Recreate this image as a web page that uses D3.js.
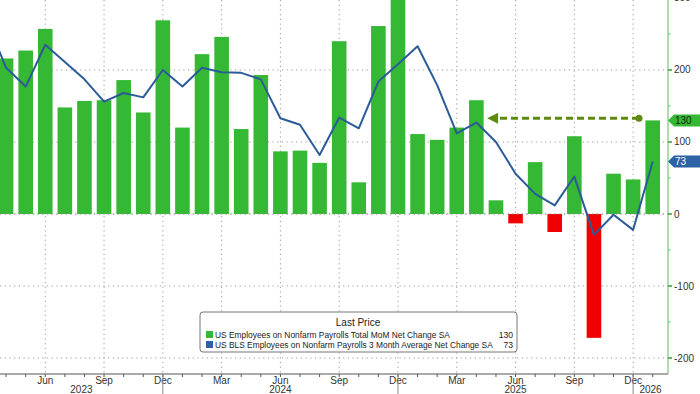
<!DOCTYPE html>
<html>
<head>
<meta charset="utf-8">
<script src="https://cdn.jsdelivr.net/npm/d3@7"></script>
<style>
  body { margin: 0; background: #fff; }
  svg { display: block; }
  text { font-family: "Liberation Sans", Arial, sans-serif; }
</style>
</head>
<body>
<div id="chart"></div>
<script>
// months shown (Mar 2023 sits just off the left edge, only the avg line comes from it)
const months = [
  "2023-03", "2023-04", "2023-05", "2023-06", "2023-07", "2023-08", "2023-09", "2023-10", "2023-11", "2023-12",
  "2024-01", "2024-02", "2024-03", "2024-04", "2024-05", "2024-06", "2024-07", "2024-08", "2024-09", "2024-10", "2024-11", "2024-12",
  "2025-01", "2025-02", "2025-03", "2025-04", "2025-05", "2025-06", "2025-07", "2025-08", "2025-09", "2025-10", "2025-11", "2025-12",
  "2026-01"
];
// US Employees on Nonfarm Payrolls Total MoM Net Change SA (thousands)
const payrolls = [
  null, 216, 227, 257, 148, 157, 158, 186, 141, 269,
  120, 222, 246, 118, 193, 87, 88, 71, 240, 44, 261, 320,
  111, 103, 120, 158, 19, -13, 72, -25, 108, -172, 56, 48,
  130
];
// US BLS Employees on Nonfarm Payrolls 3 Month Average Net Change SA
const avg3m = [
  270, 203, 177, 235, 211, 187, 156, 168, 162, 200,
  177, 203, 197, 196, 187, 133, 124, 82, 134, 119, 184, 208,
  233, 179, 112, 127, 100, 56, 28, 12, 52, -29, -1, -22,
  73
];
const yTicks = [300, 200, 100, 0, -100, -200];
const yMinorTicks = [250, 150, 50, -50, -150];
const monthNames = ["Jan","Feb","Mar","Apr","May","Jun","Jul","Aug","Sep","Oct","Nov","Dec"];
const legendNames = [
  "US Employees on Nonfarm Payrolls Total MoM Net Change SA",
  "US BLS Employees on Nonfarm Payrolls 3 Month Average Net Change SA"
];
// dashed arrow annotation: level and month-index span
const arrowLevel = 133;
const arrowFrom = 33.3;
const arrowTo = 25.55;

const W = 700, H = 394;
const plotRight = 668, plotBottom = 374;
const GREEN = "#35b833", RED = "#f00000", BLUE = "#2b5c98", OLIVE = "#5f8a12";

const svg = d3.select('#chart').append('svg')
  .attr('width', W).attr('height', H);

const x = d3.scaleLinear().domain([0.69, 34.78]).range([0, plotRight]);
const y = d3.scaleLinear().domain([-222.2, 297.2]).range([plotBottom, 0]);

svg.append('defs').append('clipPath').attr('id', 'plot')
  .append('rect').attr('x', 0).attr('y', 0).attr('width', plotRight).attr('height', plotBottom);

const monthNum = months.map(m => +m.slice(5, 7));
const quarterIdx = months.map((m, i) => i).filter(i => monthNum[i] % 3 === 0 && x(i) >= 0);
const decIdx = months.map((m, i) => i).filter(i => monthNum[i] === 12);

// grid
const grid = svg.append('g').attr('stroke', '#9a9a9a').attr('stroke-dasharray', '1.2,3.5').attr('stroke-width', 1);
grid.selectAll('.hg').data(yTicks.filter(t => t < 290)).enter().append('line')
  .attr('x1', 0).attr('x2', plotRight).attr('y1', d => y(d)).attr('y2', d => y(d));
grid.selectAll('.vg').data(quarterIdx).enter().append('line')
  .attr('x1', d => x(d)).attr('x2', d => x(d)).attr('y1', 0).attr('y2', plotBottom);

// bars
const bw = 14.6;
svg.append('g').attr('clip-path', 'url(#plot)')
  .selectAll('rect')
  .data(payrolls.map((v, i) => ({ v, i })).filter(d => d.v !== null))
  .enter().append('rect')
  .attr('x', d => x(d.i) - bw / 2)
  .attr('width', bw)
  .attr('y', d => y(Math.max(0, d.v)))
  .attr('height', d => Math.abs(y(d.v) - y(0)))
  .attr('fill', d => d.v >= 0 ? GREEN : RED);

// zero line over bars
svg.append('line').attr('x1', 0).attr('x2', plotRight).attr('y1', y(0)).attr('y2', y(0))
  .attr('stroke', '#9a9a9a').attr('stroke-dasharray', '1.2,3.5');

// 3m average line
svg.append('path').attr('clip-path', 'url(#plot)')
  .datum(avg3m)
  .attr('d', d3.line().x((d, i) => x(i)).y(d => y(d)))
  .attr('fill', 'none').attr('stroke', BLUE).attr('stroke-width', 2).attr('stroke-linejoin', 'round');

// dashed arrow
const ay = y(arrowLevel);
svg.append('line')
  .attr('x1', x(arrowFrom)).attr('x2', x(arrowTo) + 9).attr('y1', ay).attr('y2', ay)
  .attr('stroke', OLIVE).attr('stroke-width', 3).attr('stroke-dasharray', '7,4');
svg.append('circle').attr('cx', x(arrowFrom)).attr('cy', ay).attr('r', 3.5).attr('fill', OLIVE);
svg.append('path')
  .attr('d', `M${x(arrowTo)},${ay} L${x(arrowTo) + 11},${ay - 5.5} L${x(arrowTo) + 11},${ay + 5.5} Z`)
  .attr('fill', OLIVE);

// right axis
const ra = svg.append('g');
ra.append('line').attr('x1', plotRight).attr('x2', plotRight).attr('y1', 0).attr('y2', plotBottom)
  .attr('stroke', '#5cbf5a').attr('stroke-width', 1);
ra.selectAll('.mt').data(yTicks).enter().append('line')
  .attr('x1', plotRight).attr('x2', plotRight + 4).attr('y1', d => y(d)).attr('y2', d => y(d))
  .attr('stroke', '#3d9e3a').attr('stroke-width', 1.5);
ra.selectAll('.nt').data(yMinorTicks).enter().append('line')
  .attr('x1', plotRight).attr('x2', plotRight + 2.5).attr('y1', d => y(d)).attr('y2', d => y(d))
  .attr('stroke', '#5cbf5a');
ra.selectAll('.tl').data(yTicks).enter().append('text')
  .attr('x', plotRight + 6).attr('y', d => y(d) + 3.5)
  .attr('font-size', 10).attr('fill', '#333')
  .text(d => d < 0 ? '-' + Math.abs(d) : d);

// last value tags
const tags = [
  { v: payrolls[payrolls.length - 1], fill: GREEN, color: '#1a1a1a' },
  { v: avg3m[avg3m.length - 1], fill: '#2e62a6', color: '#fff' }
];
tags.forEach(t => {
  const ty = y(t.v);
  svg.append('path')
    .attr('d', `M${plotRight},${ty} L${plotRight + 6},${ty - 6} L${W},${ty - 6} L${W},${ty + 6} L${plotRight + 6},${ty + 6} Z`)
    .attr('fill', t.fill);
  svg.append('text').attr('x', plotRight + 7).attr('y', ty + 3.6)
    .attr('font-size', 10).attr('fill', t.color).text(t.v);
});

// bottom axis
const ba = svg.append('g');
ba.append('line').attr('x1', 0).attr('x2', plotRight).attr('y1', plotBottom).attr('y2', plotBottom)
  .attr('stroke', '#555');
ba.selectAll('.mk').data(months.map((m, i) => i).filter(i => x(i) >= 0)).enter().append('line')
  .attr('x1', d => x(d)).attr('x2', d => x(d)).attr('y1', plotBottom).attr('y2', plotBottom + 3)
  .attr('stroke', '#555');
ba.selectAll('.ml').data(quarterIdx).enter().append('text')
  .attr('x', d => x(d)).attr('y', plotBottom + 9.5)
  .attr('text-anchor', 'middle').attr('font-size', 10).attr('fill', '#333')
  .text(d => monthNames[monthNum[d] - 1]);
ba.selectAll('.ys').data(decIdx).enter().append('line')
  .attr('x1', d => x(d)).attr('x2', d => x(d)).attr('y1', plotBottom).attr('y2', H)
  .attr('stroke', '#888');
// year labels centred between separators
const bounds = [0].concat(decIdx.map(i => x(i))).concat([plotRight]);
const years = d3.range(bounds.length - 1).map(k => 2023 + k);
ba.selectAll('.yl').data(years).enter().append('text')
  .attr('x', (d, k) => (bounds[k] + bounds[k + 1]) / 2).attr('y', plotBottom + 19.3)
  .attr('text-anchor', 'middle').attr('font-size', 10).attr('fill', '#333')
  .text(d => d);

// legend
const lg = svg.append('g').attr('transform', 'translate(200,312)');
lg.append('rect').attr('width', 317).attr('height', 40).attr('rx', 3)
  .attr('fill', '#fff').attr('stroke', '#777');
lg.append('text').attr('x', 158).attr('y', 14).attr('text-anchor', 'middle')
  .attr('font-size', 10).attr('fill', '#222').text('Last Price');
const legendVals = [payrolls[payrolls.length - 1], avg3m[avg3m.length - 1]];
const legendCols = [GREEN, '#2e62a6'];
legendNames.forEach((n, k) => {
  const ry = 19 + k * 10;
  lg.append('rect').attr('x', 6).attr('y', ry).attr('width', 7).attr('height', 7).attr('fill', legendCols[k]);
  lg.append('text').attr('x', 15).attr('y', ry + 7).attr('font-size', 8.4)
    .attr('fill', '#222').text(n);
  lg.append('text').attr('x', 313).attr('y', ry + 7).attr('text-anchor', 'end').attr('font-size', 8.6)
    .attr('fill', '#222').text(legendVals[k]);
});
</script>
</body>
</html>
